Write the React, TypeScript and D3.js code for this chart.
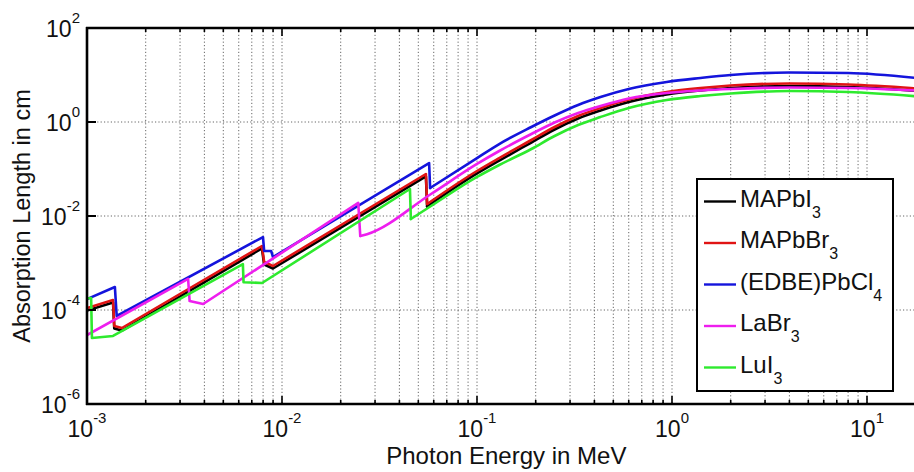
import React from 'react';
import * as d3 from 'd3';

type P = [number, number];

// ---- data (photon energy in MeV, absorption length in cm) ----
const legendMain = ['MAPbI', 'MAPbBr', '(EDBE)PbCl', 'LaBr', 'LuI'];
const legendSub = ['3', '3', '4', '3', '3'];
const seriesColors = ['#000000', '#e01414', '#1414dc', '#ee1eee', '#2eea2e'];

// edge (piecewise power-law) region
const mapbi3Edges: P[] = [[1e-3, 9.7e-5], [1.36e-3, 1.44e-4], [1.38e-3, 4.05e-5], [1.51e-3, 3.66e-5], [7.89e-3, 2.04e-3], [8.1e-3, 9.3e-4], [8.99e-3, 7.64e-4], [0.0547, 0.0693]];
const mapbi3Tail: P[] = [[0.0555, 0.0159], [0.1, 0.0803], [0.13, 0.151], [0.19, 0.366], [0.25, 0.693], [0.33, 1.188], [0.43, 1.758], [0.6, 2.66], [0.94, 3.85], [1.4, 4.68], [2.0, 5.29], [4.0, 5.83], [8.0, 5.56], [20, 4.46]];

const mapbbr3Edges: P[] = [[1e-3, 1.1e-4], [1.36e-3, 1.63e-4], [1.38e-3, 4.57e-5], [1.51e-3, 4.14e-5], [7.89e-3, 2.3e-3], [8.1e-3, 1.05e-3], [8.99e-3, 8.63e-4], [0.0547, 0.0783]];
const mapbbr3Tail: P[] = [[0.0555, 0.018], [0.1, 0.0907], [0.13, 0.171], [0.19, 0.414], [0.25, 0.783], [0.33, 1.342], [0.43, 1.986], [0.6, 3.01], [0.94, 4.35], [1.4, 5.29], [2.0, 5.98], [4.0, 6.59], [8.0, 6.28], [20, 5.04]];

const edbeEdges: P[] = [[1e-3, 1.71e-4], [1.39e-3, 3.08e-4], [1.42e-3, 7.45e-5], [7.99e-3, 3.57e-3], [8.1e-3, 1.8e-3], [8.8e-3, 1.8e-3], [8.99e-3, 1.34e-3], [0.0568, 0.134]];
const edbeTail: P[] = [[0.0575, 0.0394], [0.1, 0.171], [0.13, 0.34], [0.19, 0.783], [0.25, 1.375], [0.33, 2.3], [0.43, 3.4], [0.6, 5.04], [0.94, 7.1], [1.4, 8.63], [2.0, 10.0], [4.0, 11.3], [8.0, 11.0], [20, 8.22]];

const labr3Edges: P[] = [[1e-3, 2.94e-5], [3.3e-3, 4.57e-4], [3.36e-3, 1.55e-4], [3.94e-3, 1.34e-4], [0.0246, 0.019]];
const labr3Tail: P[] = [[0.0252, 0.00375], [0.0273, 0.0041], [0.0581, 0.0294], [0.1, 0.128], [0.13, 0.2415], [0.19, 0.555], [0.25, 0.976], [0.33, 1.554], [0.43, 2.19], [0.6, 3.16], [0.94, 4.14], [1.4, 4.68], [2.0, 5.04], [4.0, 5.42], [8.0, 5.29], [20, 4.57]];

const lui3Edges: P[] = [[1e-3, 1.75e-4], [1.05e-3, 1.8e-4], [1.06e-3, 2.54e-5], [1.36e-3, 2.8e-5], [6.3e-3, 9.5e-4], [6.35e-3, 3.9e-4], [7.9e-3, 3.75e-4], [0.0453, 0.0375]];
const lui3Tail: P[] = [[0.0458, 0.00863], [0.0581, 0.0163], [0.1, 0.0676], [0.13, 0.1216], [0.19, 0.2664], [0.25, 0.5036], [0.33, 0.8633], [0.43, 1.277], [0.6, 1.986], [0.94, 2.94], [1.4, 3.57], [2.0, 4.04], [4.0, 4.57], [8.0, 4.35], [20, 3.4]];

const xTickExps = [-3, -2, -1, 0, 1];
const yTickExps = [-6, -4, -2, 0, 2];
const xLabel = 'Photon Energy in MeV';
const yLabel = 'Absorption Length in cm';

const FONT = '"Liberation Sans", Arial, Helvetica, sans-serif';

export default function App() {
  const W = 914, H = 472;
  const left = 87, top = 28, bottom = 404;
  const xDecade = 195;
  const xMin = 1e-3, xMax = 20;
  const right = left + xDecade * Math.log10(xMax / xMin);

  const x = d3.scaleLog().domain([xMin, xMax]).range([left, right]);
  const y = d3.scaleLog().domain([1e-6, 1e2]).range([bottom, top]);

  const lin = d3.line<P>().x(d => x(d[0])).y(d => y(d[1]));
  const smooth = d3.line<P>().x(d => x(d[0])).y(d => y(d[1])).curve(d3.curveMonotoneX);

  const series = [
    { edges: mapbi3Edges, tail: mapbi3Tail },
    { edges: mapbbr3Edges, tail: mapbbr3Tail },
    { edges: edbeEdges, tail: edbeTail },
    { edges: labr3Edges, tail: labr3Tail },
    { edges: lui3Edges, tail: lui3Tail },
  ];

  const minorX: number[] = [];
  for (let n = -3; n <= 1; n++) {
    for (let k = 1; k <= 9; k++) {
      const v = k * Math.pow(10, n);
      if (v <= xMax + 1e-9) minorX.push(v);
    }
  }

  const gridColor = '#555';
  const legendX = 697, legendY = 179, legendW = 196, legendH = 212;
  const legendRow0 = 201.5, legendRowStep = 41.5;

  return (
    <svg width={W} height={H} style={{ position: 'absolute', left: 0, top: 0, background: '#fff', overflow: 'hidden' }} fontFamily={FONT}>
      <rect x={0} y={0} width={W} height={H} fill="#fff" />
      {/* grid */}
      {minorX.map((v, i) => (
        <line key={'gx' + i} x1={x(v)} x2={x(v)} y1={top} y2={bottom} stroke={gridColor} strokeWidth={0.9} strokeDasharray="1.2,2.2" />
      ))}
      {yTickExps.map(e => (
        <line key={'gy' + e} x1={left} x2={right} y1={y(Math.pow(10, e))} y2={y(Math.pow(10, e))} stroke={gridColor} strokeWidth={0.9} strokeDasharray="1.2,2.2" />
      ))}
      {/* data */}
      <defs>
        <clipPath id="plotclip">
          <rect x={left} y={top} width={right - left} height={bottom - top} />
        </clipPath>
      </defs>
      <g clipPath="url(#plotclip)" fill="none" strokeWidth={2.6} strokeLinejoin="round" strokeLinecap="round">
        {series.map((s, i) => (
          <g key={'s' + i} stroke={seriesColors[i]}>
            <path d={lin([...s.edges, s.tail[0]]) || ''} />
            <path d={smooth(s.tail) || ''} />
          </g>
        ))}
      </g>
      {/* axes box */}
      <line x1={left} x2={left} y1={top - 1} y2={bottom + 1} stroke="#000" strokeWidth={2.6} />
      <line x1={left - 1} x2={right} y1={bottom} y2={bottom} stroke="#000" strokeWidth={2.6} />
      <line x1={left - 1} x2={right} y1={top} y2={top} stroke="#000" strokeWidth={2.6} />
      <line x1={right} x2={right} y1={top} y2={bottom} stroke="#000" strokeWidth={2.6} />
      {/* x ticks */}
      {minorX.map((v, i) => {
        const major = Math.abs(Math.log10(v) - Math.round(Math.log10(v))) < 1e-9;
        const len = major ? 8 : 4;
        return (
          <g key={'tx' + i} stroke="#000" strokeWidth={1.6}>
            <line x1={x(v)} x2={x(v)} y1={bottom} y2={bottom - len} />
            <line x1={x(v)} x2={x(v)} y1={top} y2={top + len} />
          </g>
        );
      })}
      {/* y ticks */}
      {yTickExps.map(e => (
        <line key={'ty' + e} x1={left} x2={left + 9} y1={y(Math.pow(10, e))} y2={y(Math.pow(10, e))} stroke="#000" strokeWidth={2} />
      ))}
      {/* x tick labels */}
      {xTickExps.map(e => (
        <text key={'lx' + e} x={x(Math.pow(10, e))} y={437} textAnchor="middle" fontSize={23} fill="#111">
          10<tspan fontSize={15} dy={-14}>{e}</tspan>
        </text>
      ))}
      {/* y tick labels */}
      {yTickExps.map(e => (
        <text key={'ly' + e} x={80} y={y(Math.pow(10, e)) + 9} textAnchor="end" fontSize={23} fill="#111">
          10<tspan fontSize={15} dy={-14}>{e}</tspan>
        </text>
      ))}
      {/* axis labels */}
      <text x={(left + right) / 2} y={464} textAnchor="middle" fontSize={24} fill="#111">{xLabel}</text>
      <text transform={`translate(30,${(top + bottom) / 2}) rotate(-90)`} textAnchor="middle" fontSize={23.5} fill="#111">{yLabel}</text>
      {/* legend */}
      <rect x={legendX} y={legendY} width={legendW} height={legendH} fill="#fff" stroke="#000" strokeWidth={2} />
      {legendMain.map((t, i) => {
        const ly = legendRow0 + i * legendRowStep;
        return (
          <g key={'lg' + i}>
            <line x1={704} x2={736} y1={ly} y2={ly} stroke={seriesColors[i]} strokeWidth={2.4} />
            <text x={740} y={ly + 5} fontSize={24} fill="#111">
              {t}<tspan fontSize={16} dy={11}>{legendSub[i]}</tspan>
            </text>
          </g>
        );
      })}
    </svg>
  );
}
